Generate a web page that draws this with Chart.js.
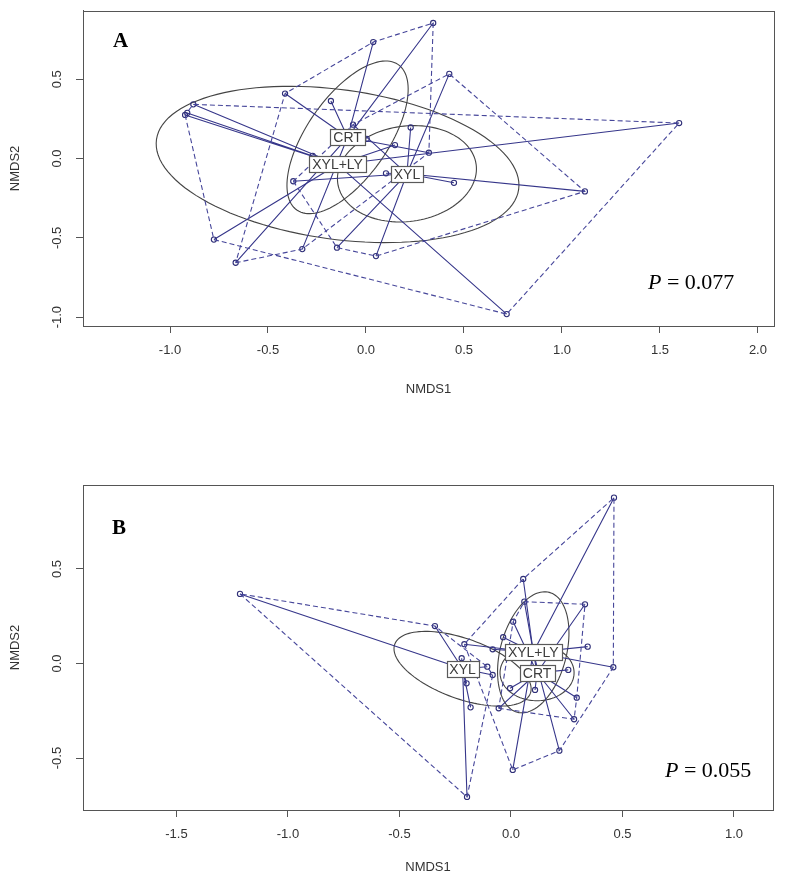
<!DOCTYPE html>
<html>
<head>
<meta charset="utf-8">
<script src="https://cdn.jsdelivr.net/npm/chart.js@4.4.0/dist/chart.umd.min.js"></script>
<style>
  html, body { margin: 0; padding: 0; background: #fff; }
  #wrap { position: relative; width: 787px; height: 879px; }
  canvas { position: absolute; left: 0; }
  #cA { top: 0; }
  #cB { top: 420px; }
</style>
</head>
<body>
<div id="wrap">
  <canvas id="cA" width="787" height="420"></canvas>
  <canvas id="cB" width="787" height="459"></canvas>
</div>
<script>
// ---- Groups ----
const groupNames = ['CRT', 'XYL', 'XYL+LY'];

// ---- Panel A: NMDS scores per group ----
const aCrtX  = [0.343, 0.037, -0.413, -0.179, -0.665, -0.325, 0.321, 0.004];
const aCrtY  = [0.855, 0.735, 0.410, 0.363, -0.657, -0.571, 0.037, 0.124];
const aXylX  = [0.425, 1.117, 0.051, -0.148, -0.371, -0.066, 0.228, 0.449, 0.102];
const aXylY  = [0.534, -0.207, -0.615, -0.562, -0.143, 0.214, 0.196, -0.153, -0.093];
const aXlyX  = [-0.881, -0.923, -0.912, 1.598, 0.718, -0.776, 0.148, -0.272];
const aXlyY  = [0.342, 0.275, 0.288, 0.224, -0.981, -0.511, 0.085, 0.017];
// centroids (CRT, XYL, XYL+LY)
const aCentX = [-0.094, 0.209, -0.145];
const aCentY = [0.134, -0.096, -0.037];
// ellipses: centre + two half-axis vectors (data units)
const aEllCX = [-0.094, 0.209, -0.145];
const aEllCY = [0.134, -0.096, -0.037];
const aEllU  = [[0.257, 0.460], [0.353, 0.060], [0.924, -0.158]];
const aEllV  = [[0.172, -0.142], [0.034, -0.298], [-0.054, -0.467]];
const aXTicks = [-1.0, -0.5, 0.0, 0.5, 1.0, 1.5, 2.0];
const aYTicks = [-1.0, -0.5, 0.0, 0.5];
const aP = '0.077';

// ---- Panel B ----
const bCrtX  = [0.060, 0.332, 0.010, 0.257, 0.295, 0.283, 0.108, -0.004, -0.055];
const bCrtY  = [0.327, 0.313, 0.221, -0.034, -0.181, -0.295, -0.140, -0.131, -0.237];
const bXylX  = [-1.215, -0.341, -0.197, -0.199, -0.181, -0.106, -0.082, -0.221];
const bXylY  = [0.368, 0.198, -0.706, -0.105, -0.232, -0.017, -0.061, 0.028];
const bXlyX  = [0.462, 0.055, -0.209, 0.344, -0.082, -0.035, 0.459, 0.217, 0.008];
const bXlyY  = [0.877, 0.447, 0.102, 0.089, 0.075, 0.139, -0.020, -0.461, -0.563];
const bCentX = [0.117, -0.217, 0.100];
const bCentY = [-0.049, -0.028, 0.059];
const bEllCX = [0.117, -0.217, 0.100];
const bEllCY = [-0.049, -0.028, 0.059];
const bEllU  = [[0.166, 0.0], [0.304, -0.130], [0.072, 0.317]];
const bEllV  = [[0.0, 0.148], [-0.046, -0.149], [0.143, -0.045]];
const bXTicks = [-1.5, -1.0, -0.5, 0.0, 0.5, 1.0];
const bYTicks = [-0.5, 0.0, 0.5];
const bP = '0.055';

// ---- Styles ----
const PT_COL   = '#2f2f78';
const SPID_COL = '#36368a';
const HULL_COL = '#46469a';
const ELL_COL  = '#444444';
const AXIS_COL = '#555555';
const SANS = '"Liberation Sans", Arial, sans-serif';
const SERIF = '"Liberation Serif", "Times New Roman", serif';

// ---- helpers ----
function toPts(xs, ys) { return xs.map((x, i) => ({ x, y: ys[i] })); }

function convexHull(pts) {
  const p = pts.slice().sort((a, b) => a.x - b.x || a.y - b.y);
  const cross = (o, a, b) => (a.x - o.x) * (b.y - o.y) - (a.y - o.y) * (b.x - o.x);
  const lower = [], upper = [];
  for (const q of p) {
    while (lower.length >= 2 && cross(lower[lower.length - 2], lower[lower.length - 1], q) <= 0) lower.pop();
    lower.push(q);
  }
  for (let i = p.length - 1; i >= 0; i--) {
    const q = p[i];
    while (upper.length >= 2 && cross(upper[upper.length - 2], upper[upper.length - 1], q) <= 0) upper.pop();
    upper.push(q);
  }
  upper.pop(); lower.pop();
  const h = lower.concat(upper);
  h.push(h[0]);
  return h;
}

function spiderData(pts, cx, cy) {
  const out = [];
  pts.forEach(p => { out.push(p, { x: cx, y: cy }, { x: null, y: null }); });
  return out;
}

function buildDatasets(groups, centX, centY) {
  const ds = [];
  groups.forEach(pts => {
    ds.push({ data: convexHull(pts), showLine: true, borderColor: HULL_COL, borderWidth: 1.1,
              borderDash: [5, 3], pointRadius: 0, fill: false, tension: 0 });
  });
  groups.forEach((pts, g) => {
    ds.push({ data: spiderData(pts, centX[g], centY[g]), showLine: true, spanGaps: false,
              borderColor: SPID_COL, borderWidth: 1.1, pointRadius: 0, fill: false, tension: 0 });
  });
  groups.forEach(pts => {
    ds.push({ data: pts, showLine: false, pointRadius: 2.6, pointBorderWidth: 1.1,
              pointBorderColor: PT_COL, pointBackgroundColor: 'rgba(0,0,0,0)' });
  });
  return ds;
}

// ---- decoration plugin ----
function decorPlugin(cfg) {
  return {
    id: 'decor',
    beforeDatasetsDraw(chart) {
      const { ctx } = chart;
      const xs = chart.scales.x, ys = chart.scales.y;
      const ca = chart.chartArea;
      ctx.save();
      ctx.beginPath();
      ctx.rect(ca.left, ca.top, ca.right - ca.left, ca.bottom - ca.top);
      ctx.clip();
      ctx.strokeStyle = ELL_COL;
      ctx.lineWidth = 1.1;
      cfg.ellCX.forEach((cx, i) => {
        const cy = cfg.ellCY[i], u = cfg.ellU[i], v = cfg.ellV[i];
        ctx.beginPath();
        for (let k = 0; k <= 120; k++) {
          const t = (k / 120) * Math.PI * 2;
          const px = xs.getPixelForValue(cx + Math.cos(t) * u[0] + Math.sin(t) * v[0]);
          const py = ys.getPixelForValue(cy + Math.cos(t) * u[1] + Math.sin(t) * v[1]);
          if (k === 0) ctx.moveTo(px, py); else ctx.lineTo(px, py);
        }
        ctx.stroke();
      });
      ctx.restore();
    },
    afterDraw(chart) {
      const { ctx } = chart;
      const xs = chart.scales.x, ys = chart.scales.y;
      const ca = chart.chartArea;
      ctx.save();
      // frame
      ctx.strokeStyle = AXIS_COL;
      ctx.lineWidth = 1;
      ctx.strokeRect(Math.round(ca.left) + 0.5, Math.round(ca.top) + 0.5,
                     Math.round(ca.right - ca.left), Math.round(ca.bottom - ca.top));
      // group labels
      ctx.font = '14px ' + SANS;
      ctx.textAlign = 'center';
      ctx.textBaseline = 'middle';
      cfg.labelOrder.forEach(g => {
        const name = groupNames[g];
        const px = xs.getPixelForValue(cfg.centX[g]);
        const py = ys.getPixelForValue(cfg.centY[g]);
        const w = Math.round(ctx.measureText(name).width + 6), h = 16;
        const x0 = Math.round(px - w / 2) + 0.5, y0 = Math.round(py - h / 2) + 0.5;
        ctx.fillStyle = '#ffffff';
        ctx.fillRect(x0, y0, w, h);
        ctx.strokeStyle = '#5a5a5a';
        ctx.lineWidth = 1.2;
        ctx.strokeRect(x0, y0, w, h);
        ctx.fillStyle = '#3c3c3c';
        ctx.fillText(name, px, py + 1);
      });
      // y tick labels (rotated, R style)
      ctx.fillStyle = '#333';
      ctx.font = '13px ' + SANS;
      cfg.yTicks.forEach(v => {
        const py = ys.getPixelForValue(v);
        ctx.save();
        ctx.translate(ca.left - 26, py);
        ctx.rotate(-Math.PI / 2);
        ctx.textAlign = 'center';
        ctx.textBaseline = 'middle';
        ctx.fillText(v.toFixed(1), 0, 0);
        ctx.restore();
      });
      // axis titles
      ctx.font = '13px ' + SANS;
      ctx.textAlign = 'center';
      ctx.textBaseline = 'middle';
      ctx.fillText('NMDS1', (ca.left + ca.right) / 2, ca.bottom + cfg.xTitleOff);
      ctx.save();
      ctx.translate(15, (ca.top + ca.bottom) / 2);
      ctx.rotate(-Math.PI / 2);
      ctx.fillText('NMDS2', 0, 0);
      ctx.restore();
      // panel letter
      ctx.fillStyle = '#000';
      ctx.font = 'bold 21px ' + SERIF;
      ctx.textAlign = 'left';
      ctx.textBaseline = 'alphabetic';
      ctx.fillText(cfg.letter, cfg.letterPos[0], cfg.letterPos[1]);
      // P value
      ctx.font = 'italic 22px ' + SERIF;
      const pw = ctx.measureText('P').width;
      ctx.fillText('P', cfg.pPos[0], cfg.pPos[1]);
      ctx.font = '22px ' + SERIF;
      ctx.fillText(' = ' + cfg.p, cfg.pPos[0] + pw, cfg.pPos[1]);
      ctx.restore();
    }
  };
}

function makeChart(id, cfg) {
  const groups = [toPts(cfg.crtX, cfg.crtY), toPts(cfg.xylX, cfg.xylY), toPts(cfg.xlyX, cfg.xlyY)];
  return new Chart(document.getElementById(id), {
    type: 'scatter',
    data: { datasets: buildDatasets(groups, cfg.centX, cfg.centY) },
    options: {
      responsive: false,
      animation: false,
      events: [],
      layout: { padding: { left: 0, top: cfg.padTop, right: 787 - cfg.right, bottom: 0 } },
      plugins: { legend: { display: false }, tooltip: { enabled: false } },
      scales: {
        x: {
          type: 'linear', min: cfg.xMin, max: cfg.xMax,
          afterBuildTicks: s => { s.ticks = cfg.xTicks.map(v => ({ value: v })); },
          afterFit: s => { s.height = cfg.xAxisH; },
          ticks: { callback: v => v.toFixed(1), autoSkip: false, maxRotation: 0,
                   font: { family: SANS, size: 13 }, color: '#333', padding: 10 },
          grid: { display: true, drawOnChartArea: false, drawTicks: true, tickLength: 7, color: AXIS_COL },
          border: { display: true, color: AXIS_COL, width: 1 }
        },
        y: {
          type: 'linear', min: cfg.yMin, max: cfg.yMax,
          afterBuildTicks: s => { s.ticks = cfg.yTicks.map(v => ({ value: v })); },
          afterFit: s => { s.width = 83; },
          ticks: { color: 'rgba(0,0,0,0)', font: { family: SANS, size: 13 } },
          grid: { display: true, drawOnChartArea: false, drawTicks: true, tickLength: 7, color: AXIS_COL },
          border: { display: true, color: AXIS_COL, width: 1 }
        }
      }
    },
    plugins: [decorPlugin(cfg)]
  });
}

makeChart('cA', {
  crtX: aCrtX, crtY: aCrtY, xylX: aXylX, xylY: aXylY, xlyX: aXlyX, xlyY: aXlyY,
  centX: aCentX, centY: aCentY,
  ellCX: aEllCX, ellCY: aEllCY, ellU: aEllU, ellV: aEllV,
  xTicks: aXTicks, yTicks: aYTicks, p: aP,
  xMin: -1.444, xMax: 2.082, yMin: -1.056, yMax: 0.932,
  padTop: 6, right: 774, xAxisH: 94, xTitleOff: 63,
  letter: 'A', letterPos: [113, 47], pPos: [648, 289],
  labelOrder: [2, 1, 0]
});

makeChart('cB', {
  crtX: bCrtX, crtY: bCrtY, xylX: bXylX, xylY: bXylY, xlyX: bXlyX, xlyY: bXlyY,
  centX: bCentX, centY: bCentY,
  ellCX: bEllCX, ellCY: bEllCY, ellU: bEllU, ellV: bEllV,
  xTicks: bXTicks, yTicks: bYTicks, p: bP,
  xMin: -1.919, xMax: 1.175, yMin: -0.775, yMax: 0.944,
  padTop: 65, right: 773, xAxisH: 69, xTitleOff: 57,
  letter: 'B', letterPos: [112, 534 - 420], pPos: [665, 777 - 420],
  labelOrder: [2, 1, 0]
});
</script>
</body>
</html>
